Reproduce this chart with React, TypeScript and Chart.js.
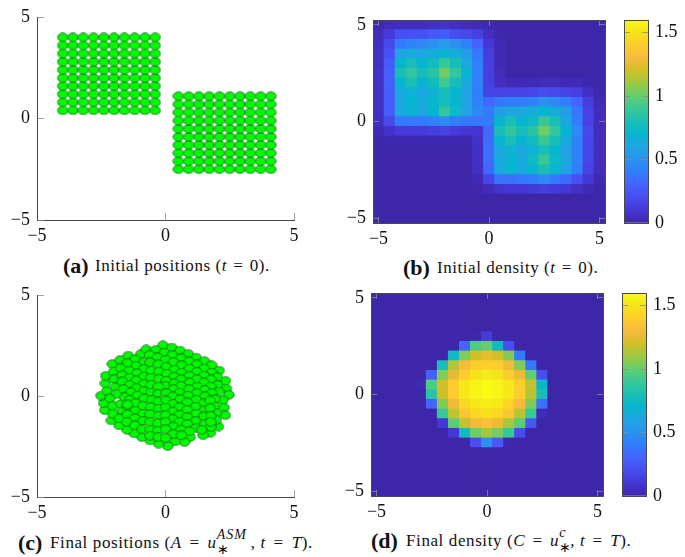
import React, { useEffect, useRef } from "react";
import { Chart, registerables } from "chart.js";

Chart.register(...registerables);

const blockAX = [-4, -3.6, -3.2, -2.8, -2.4, -2, -1.6, -1.2, -0.8, -0.4];
const blockAY = [0.4, 0.8, 1.2, 1.6, 2, 2.4, 2.8, 3.2, 3.6, 4];
const blockBX = [0.5, 0.9, 1.3, 1.7, 2.1, 2.5, 2.9, 3.3, 3.7, 4.1];
const blockBY = [-2.5, -2.1, -1.7, -1.3, -0.9, -0.5, -0.1, 0.3, 0.7, 1.1];

const finalX = [
  -0.1, 0.25, 0.57, 0.89, 1.2, 1.52, 1.8, 2.09, 2.33, 2.37, 2.47, 2.23, 2.28, 2.33, 2.06, 1.75, 1.46, 0.96, 0.74, 0.38,
  0.09, -0.27, -0.6, -0.92, -1.22, -1.5, -1.8, -2.11, -2.36, -2.41, -2.51, -2.28, -2.34, -2.33, -2.07, -1.76, -1.45, -0.97, -0.75, -0.39,
  -0.05, 0.27, 0.6, 0.91, 1.22, 1.5, 1.79, 2.02,
  -0.62, -0.32, 0, 0.31, 0.62, 0.92, 1.22, 1.5, 1.76, 2.02,
  -1.19, -0.85, -0.6, -0.28, 0.03, 0.34, 0.62, 0.93, 1.22, 1.5, 1.76, 2.07,
  -1.48, -1.14, -0.85, -0.57, -0.26, 0.05, 0.34, 0.6, 0.93, 1.24, 1.53, 1.8, 1.93,
  -2.02, -1.74, -1.42, -1.11, -0.85, -0.57, -0.26, 0.03, 0, 0.34, 0.6, 0.91, 1.22, 1.54,
  -1.99, -1.68, -1.4, -1.14, -0.85, -0.57, -0.28, 0.31, 0.54, 0.88, 1.19, 1.5, 1.89,
  -1.94, -1.68, -1.4, -1.14, -0.85, -0.57, -0.28, 0.03, 0.28, 0.57, 0.85, 1.17, 1.54, 1.97,
  -2.15, -1.87, -1.63, -1.35, -1.09, -0.83, -0.54, -0.27, 0.03, 0.28, 0.54, 0.85, 1.17, 1.5, 1.97,
  -2.05, -1.74, -1.58, -1.4, -1.17, -0.88, -0.57, -0.27, 0, 0.28, 0.54, 0.85, 1.17, 1.54,
  -1.7, -1.44, -1.18, -0.88, -0.6, -0.27, 0, 0.28, 0.54, 0.85, 1.19,
  -2.05, -1.79, -1.48, -1.19, -0.88, -0.6, -0.3, 0, 0.31, 0.6, 0.93,
  -1.5, -1.19, -0.91, -0.6, -0.31, 0, 0.31, 0.62,
  -0.6, -0.28, 0, 1.76, 1.41, 1.74, 1.74, 1.76, 1.76, -1.48,
];
const finalY = [
  2.51, 2.4, 2.25, 2.08, 1.9, 1.72, 1.52, 1.26, 0.75, 0.37, 0.06, -0.21, -0.57, -0.95, -1.51, -1.82, -1.94, -2.03, -2.28, -2.25,
  -2.48, -2.36, -2.2, -2.03, -1.85, -1.67, -1.46, -1.21, -0.7, -0.35, 0.02, 0.26, 0.63, 1, 1.59, 1.79, 2, 2.07, 2.31, 2.28,
  2.15, 2.02, 1.87, 1.72, 1.56, 1.36, 1.16, 0.93,
  2.03, 1.92, 1.79, 1.67, 1.52, 1.36, 1.19, 1.01, 0.82, 0.55,
  1.82, 1.67, 1.67, 1.57, 1.44, 1.31, 1.16, 1, 0.83, 0.67, 0.47, 0.22,
  1.62, 1.49, 1.34, 1.26, 1.21, 1.1, 0.96, 0.83, 0.67, 0.47, 0.3, 0.14, -0.16,
  1.21, 1.38, 1.26, 1.13, 0.96, 0.91, 0.85, 0.75, 0.5, 0.63, 0.5, 0.34, 0.14, -0.02,
  0.83, 1.03, 0.91, 0.77, 0.6, 0.55, 0.47, 0.34, 0.17, 0.01, -0.19, -0.35, -0.49,
  0.44, 0.72, 0.55, 0.39, 0.24, 0.17, 0.11, 0.14, -0.02, -0.16, -0.32, -0.52, -0.68, -0.85,
  -0.11, 0.11, 0.34, 0.19, 0.02, -0.12, -0.19, -0.27, -0.22, -0.39, -0.55, -0.68, -0.88, -1.01, -1.18,
  -0.49, -0.39, -0.06, -0.19, -0.35, -0.49, -0.55, -0.62, -0.57, -0.77, -0.93, -1.05, -1.24, -1.39,
  -0.77, -0.55, -0.73, -0.88, -0.9, -0.98, -0.95, -1.14, -1.29, -1.39, -1.59,
  -0.88, -1.11, -0.91, -1.1, -1.24, -1.28, -1.34, -1.29, -1.51, -1.67, -1.75,
  -1.29, -1.46, -1.64, -1.66, -1.71, -1.64, -1.89, -1.94,
  -1.97, -2.03, -2.08, -1.54, -1.67, -0.22, -0.6, -0.98, -1.28, -0.42,
];

const gridCenters = [-5, -4.5, -4, -3.5, -3, -2.5, -2, -1.5, -1, -0.5, 0, 0.5, 1, 1.5, 2, 2.5, 3, 3.5, 4, 4.5, 5];

// rows run from y = 5 (top) to y = -5 (bottom), columns from x = -5 to x = 5
const initialDensity = [
  [0.02, 0.04, 0.05, 0.05, 0.05, 0.06, 0.07, 0.05, 0.04, 0.03, 0.01, 0, 0, 0, 0, 0, 0, 0, 0, 0, 0],
  [0.04, 0.12, 0.22, 0.22, 0.22, 0.25, 0.27, 0.2, 0.18, 0.14, 0.05, 0.01, 0, 0, 0, 0, 0, 0, 0, 0, 0],
  [0.05, 0.18, 0.4, 0.43, 0.46, 0.5, 0.55, 0.5, 0.43, 0.3, 0.1, 0.03, 0, 0, 0, 0, 0, 0, 0, 0, 0],
  [0.06, 0.22, 0.58, 0.62, 0.62, 0.65, 0.68, 0.65, 0.56, 0.38, 0.13, 0.03, 0, 0, 0, 0, 0, 0, 0, 0, 0],
  [0.06, 0.27, 0.7, 0.78, 0.7, 0.76, 0.9, 0.78, 0.62, 0.42, 0.14, 0.03, 0, 0, 0, 0, 0, 0, 0, 0, 0],
  [0.07, 0.28, 0.8, 0.88, 0.78, 0.86, 1.02, 0.88, 0.7, 0.42, 0.14, 0.04, 0, 0, 0, 0, 0, 0, 0, 0, 0],
  [0.07, 0.28, 0.7, 0.8, 0.7, 0.76, 0.92, 0.78, 0.62, 0.42, 0.14, 0.05, 0.03, 0.03, 0.03, 0.04, 0.04, 0.03, 0.03, 0.01, 0],
  [0.06, 0.27, 0.62, 0.68, 0.62, 0.68, 0.78, 0.7, 0.58, 0.41, 0.16, 0.15, 0.15, 0.15, 0.17, 0.2, 0.18, 0.16, 0.13, 0.06, 0.01],
  [0.06, 0.27, 0.62, 0.7, 0.64, 0.71, 0.78, 0.7, 0.58, 0.44, 0.32, 0.38, 0.41, 0.41, 0.43, 0.5, 0.46, 0.41, 0.3, 0.13, 0.03],
  [0.06, 0.27, 0.62, 0.68, 0.62, 0.7, 0.88, 0.73, 0.58, 0.46, 0.4, 0.56, 0.62, 0.62, 0.65, 0.7, 0.65, 0.56, 0.38, 0.15, 0.04],
  [0.05, 0.18, 0.38, 0.39, 0.39, 0.43, 0.47, 0.41, 0.38, 0.38, 0.4, 0.7, 0.8, 0.7, 0.74, 0.9, 0.8, 0.62, 0.41, 0.15, 0.04],
  [0.03, 0.07, 0.12, 0.12, 0.12, 0.13, 0.15, 0.12, 0.1, 0.09, 0.32, 0.8, 0.88, 0.78, 0.86, 1.02, 0.88, 0.7, 0.46, 0.18, 0.04],
  [0, 0.01, 0.02, 0.02, 0.02, 0.02, 0.02, 0.02, 0.01, 0.07, 0.35, 0.7, 0.8, 0.7, 0.76, 0.9, 0.78, 0.64, 0.43, 0.17, 0.04],
  [0, 0, 0, 0, 0, 0, 0, 0, 0, 0.06, 0.34, 0.62, 0.68, 0.62, 0.68, 0.8, 0.7, 0.58, 0.43, 0.17, 0.04],
  [0, 0, 0, 0, 0, 0, 0, 0, 0, 0.06, 0.34, 0.64, 0.7, 0.64, 0.74, 0.9, 0.73, 0.62, 0.43, 0.17, 0.04],
  [0, 0, 0, 0, 0, 0, 0, 0, 0, 0.05, 0.32, 0.62, 0.71, 0.64, 0.7, 0.8, 0.71, 0.58, 0.41, 0.15, 0.04],
  [0, 0, 0, 0, 0, 0, 0, 0, 0, 0.03, 0.17, 0.36, 0.36, 0.38, 0.41, 0.46, 0.39, 0.32, 0.22, 0.1, 0.02],
  [0, 0, 0, 0, 0, 0, 0, 0, 0, 0.01, 0.04, 0.08, 0.1, 0.1, 0.12, 0.13, 0.12, 0.1, 0.06, 0.03, 0],
  [0, 0, 0, 0, 0, 0, 0, 0, 0, 0, 0, 0, 0, 0, 0, 0, 0, 0, 0, 0, 0],
  [0, 0, 0, 0, 0, 0, 0, 0, 0, 0, 0, 0, 0, 0, 0, 0, 0, 0, 0, 0, 0],
  [0, 0, 0, 0, 0, 0, 0, 0, 0, 0, 0, 0, 0, 0, 0, 0, 0, 0, 0, 0, 0],
];

const finalDensity = [
  [0, 0, 0, 0, 0, 0, 0, 0, 0, 0, 0, 0, 0, 0, 0, 0, 0, 0, 0, 0, 0],
  [0, 0, 0, 0, 0, 0, 0, 0, 0, 0, 0, 0, 0, 0, 0, 0, 0, 0, 0, 0, 0],
  [0, 0, 0, 0, 0, 0, 0, 0, 0, 0, 0, 0, 0, 0, 0, 0, 0, 0, 0, 0, 0],
  [0, 0, 0, 0, 0, 0, 0, 0, 0, 0, 0, 0, 0, 0, 0, 0, 0, 0, 0, 0, 0],
  [0, 0, 0, 0, 0, 0, 0, 0, 0, 0.01, 0.12, 0, 0, 0, 0, 0, 0, 0, 0, 0, 0],
  [0, 0, 0, 0, 0, 0, 0, 0, 0.3, 0.95, 1, 0.75, 0.2, 0, 0, 0, 0, 0, 0, 0, 0],
  [0, 0, 0, 0, 0, 0, 0, 0.75, 1.05, 1.2, 1.25, 1.2, 1.05, 0.4, 0, 0, 0, 0, 0, 0, 0],
  [0, 0, 0, 0, 0, 0, 0.8, 1.15, 1.3, 1.4, 1.42, 1.4, 1.28, 1.05, 0.38, 0, 0, 0, 0, 0, 0],
  [0, 0, 0, 0, 0, 0.28, 1.05, 1.25, 1.4, 1.5, 1.53, 1.5, 1.4, 1.27, 1, 0.2, 0, 0, 0, 0, 0],
  [0, 0, 0, 0, 0.02, 0.95, 1.2, 1.4, 1.52, 1.57, 1.6, 1.57, 1.52, 1.4, 1.18, 0.72, 0, 0, 0, 0, 0],
  [0, 0, 0, 0, 0, 0.85, 1.2, 1.4, 1.52, 1.57, 1.6, 1.57, 1.52, 1.4, 1.15, 0.8, 0, 0, 0, 0, 0],
  [0, 0, 0, 0, 0, 0.3, 1.05, 1.28, 1.45, 1.52, 1.54, 1.52, 1.44, 1.3, 1.05, 0.35, 0, 0, 0, 0, 0],
  [0, 0, 0, 0, 0, 0, 0.9, 1.17, 1.36, 1.45, 1.48, 1.45, 1.36, 1.15, 0.9, 0.03, 0, 0, 0, 0, 0],
  [0, 0, 0, 0, 0, 0, 0.1, 0.98, 1.17, 1.28, 1.33, 1.27, 1.12, 0.98, 0.25, 0, 0, 0, 0, 0, 0],
  [0, 0, 0, 0, 0, 0, 0, 0.1, 0.75, 1.02, 1.12, 1.03, 0.9, 0.2, 0, 0, 0, 0, 0, 0, 0],
  [0, 0, 0, 0, 0, 0, 0, 0, 0, 0.2, 0.5, 0.25, 0.01, 0, 0, 0, 0, 0, 0, 0, 0],
  [0, 0, 0, 0, 0, 0, 0, 0, 0, 0, 0, 0, 0, 0, 0, 0, 0, 0, 0, 0, 0],
  [0, 0, 0, 0, 0, 0, 0, 0, 0, 0, 0, 0, 0, 0, 0, 0, 0, 0, 0, 0, 0],
  [0, 0, 0, 0, 0, 0, 0, 0, 0, 0, 0, 0, 0, 0, 0, 0, 0, 0, 0, 0, 0],
  [0, 0, 0, 0, 0, 0, 0, 0, 0, 0, 0, 0, 0, 0, 0, 0, 0, 0, 0, 0, 0],
  [0, 0, 0, 0, 0, 0, 0, 0, 0, 0, 0, 0, 0, 0, 0, 0, 0, 0, 0, 0, 0],
];

const axisTicks = [-5, 0, 5];
const colorbarTicks = [0, 0.5, 1, 1.5];
const colorMax = 1.6;

const parulaStops = [
  [62, 38, 168], [69, 55, 213], [72, 77, 240], [69, 99, 253], [50, 124, 252],
  [43, 145, 239], [32, 165, 227], [8, 181, 208], [25, 191, 182], [55, 200, 151],
  [100, 205, 111], [157, 201, 67], [209, 191, 39], [248, 186, 61], [252, 205, 45],
  [245, 227, 26], [249, 251, 21],
];

const FONT = '"Liberation Serif", serif';
const AXIS = "#4a4a4a";
const TICK = "rgba(140,140,140,0.8)";

function parula(t: number) {
  const p = Math.max(0, Math.min(1, t)) * (parulaStops.length - 1);
  const i = Math.min(Math.floor(p), parulaStops.length - 2);
  const f = p - i;
  const c = parulaStops[i].map((v, k) => Math.round(v + (parulaStops[i + 1][k] - v) * f));
  return `rgb(${c[0]},${c[1]},${c[2]})`;
}

function ellipseMarker() {
  const c = document.createElement("canvas");
  c.width = 12;
  c.height = 10;
  const g = c.getContext("2d")!;
  g.beginPath();
  g.ellipse(6, 5, 5.3, 4.35, 0, 0, Math.PI * 2);
  g.fillStyle = "#00f800";
  g.fill();
  g.lineWidth = 0.55;
  g.strokeStyle = "#203020";
  g.stroke();
  return c;
}

function axisBase(values: number[], labelled: boolean, size: number, padding: number, tickLen: number) {
  return {
    grid: {
      display: true,
      drawOnChartArea: false,
      drawTicks: true,
      tickLength: -tickLen,
      tickColor: (ctx: any) => (ctx.tick && ctx.tick.value === 0 && values.length === 4 ? "rgba(0,0,0,0)" : TICK),
      tickWidth: 1,
      z: 2,
    },
    border: { display: true, color: AXIS, width: 1, z: 2 },
    ticks: {
      display: labelled,
      padding: padding + tickLen,
      font: { family: FONT, size: 18 },
      color: "#111",
      maxRotation: 0,
      autoSkip: false,
      callback: (v: number) => (v < 0 ? "\u2212" + Math.abs(v) : String(v)),
    },
    afterBuildTicks: (s: any) => { s.ticks = values.map((value) => ({ value })); },
    afterFit: (s: any) => {
      if (s.isHorizontal()) s.height = size; else s.width = size;
      s.paddingTop = 0;
      s.paddingBottom = 0;
      s.paddingLeft = 0;
      s.paddingRight = 0;
    },
  };
}

function baseOptions(box: any, scales: any) {
  return {
    responsive: false,
    animation: false,
    layout: { autoPadding: false, padding: { left: box.padLeft, right: box.padRight, top: box.topSpace, bottom: 0 } },
    plugins: { legend: { display: false }, tooltip: { enabled: false } },
    scales,
  } as any;
}

function scatterConfig(groups: { x: number; y: number }[], box: any) {
  const axisX = { type: "linear", min: -5, max: 5, ...axisBase(axisTicks, true, box.bottomSpace, 5, 7) };
  const axisY = { type: "linear", min: -5, max: 5, ...axisBase(axisTicks, true, box.leftSpace, 7, 7) };
  return {
    type: "scatter",
    data: {
      datasets: [{
        data: groups,
        pointStyle: ellipseMarker(),
        pointRadius: 5,
        clip: false,
      }],
    },
    options: baseOptions(box, { x: axisX, y: axisY }),
  };
}

function heatConfig(matrix: number[][], box: any) {
  const cells: { x: number; y: number[] }[] = [];
  const colors: string[] = [];
  matrix.forEach((row, r) => {
    row.forEach((v, c) => {
      const yc = gridCenters[gridCenters.length - 1 - r];
      cells.push({ x: gridCenters[c], y: [yc - 0.25, yc + 0.25] });
      colors.push(parula(v / colorMax));
    });
  });
  const lim = { type: "linear", min: -5.25, max: 5.25, offset: false };
  const gx = axisBase(axisTicks, true, box.bottomSpace, 5, 6);
  const gy = axisBase(axisTicks, true, box.leftSpace, 7, 6);
  const tx = axisBase(axisTicks, false, 0, 0, 6);
  const ty = axisBase(axisTicks, false, 0, 0, 6);
  return {
    type: "bar",
    data: {
      datasets: [{
        data: cells,
        backgroundColor: colors,
        borderWidth: 0,
        inflateAmount: 0.4,
        barPercentage: 1,
        categoryPercentage: 1,
      }],
    },
    options: baseOptions(box, {
      x: { ...lim, ...gx, grid: { ...gx.grid, offset: false } },
      y: { ...lim, ...gy },
      x2: { ...lim, axis: "x", position: "top", ...tx, grid: { ...tx.grid, offset: false } },
      y2: { ...lim, axis: "y", position: "right", ...ty },
    }),
  };
}

function colorbarConfig(box: any) {
  const right = axisBase(colorbarTicks, true, box.rightSpace, 7, 6);
  right.ticks.callback = (v: number) => String(v);
  const left = axisBase(colorbarTicks, false, 0, 0, 6);
  const bottom = axisBase([], false, box.bottomSpace, 0, 0);
  const top = axisBase([], false, 0, 0, 0);
  return {
    type: "bar",
    data: {
      labels: ["colour"],
      datasets: [{
        data: [[0, colorMax]],
        borderWidth: 0,
        barPercentage: 1,
        categoryPercentage: 1,
        backgroundColor: (ctx: any) => {
          const a = ctx.chart.chartArea;
          if (!a) return parula(0);
          const g = ctx.chart.ctx.createLinearGradient(0, a.bottom, 0, a.top);
          parulaStops.forEach((_, i) => g.addColorStop(i / (parulaStops.length - 1), parula(i / (parulaStops.length - 1))));
          return g;
        },
      }],
    },
    options: baseOptions(box, {
      x: { type: "category", offset: true, ...bottom, grid: { ...bottom.grid, offset: true } },
      y: { type: "linear", min: 0, max: colorMax, position: "right", ...right },
      y2: { type: "linear", axis: "y", min: 0, max: colorMax, position: "left", ...left },
      x2: { type: "linear", axis: "x", min: 0, max: 1, position: "top", ...top },
    }),
  };
}

// Canvas region derived from the plot rectangle: plot left, top, right, bottom
function boxFor(l: number, t: number, r: number, b: number, opts: any = {}): any {
  const leftSpace = opts.leftSpace ?? 37;
  const rightSpace = opts.rightSpace ?? 8;
  const bottomSpace = 28;
  const topSpace = 8;
  return {
    left: l - leftSpace,
    top: t - topSpace,
    width: r - l + leftSpace + rightSpace,
    height: b - t + topSpace + bottomSpace,
    leftSpace,
    bottomSpace,
    rightSpace,
    topSpace,
    padLeft: opts.padLeft ?? 0,
    padRight: opts.padRight ?? rightSpace,
  };
}

function Panel({ box, make }: { box: any; make: (b: any) => any }) {
  const ref = useRef<HTMLCanvasElement>(null);
  useEffect(() => {
    const chart = new Chart(ref.current!, make(box));
    return () => chart.destroy();
  }, []);
  return (
    <canvas
      ref={ref}
      width={box.width}
      height={box.height}
      style={{ position: "absolute", left: box.left, top: box.top, width: box.width, height: box.height }}
    />
  );
}

function Caption({ tag, tagX, textX, y, spacing, children }: any) {
  const common: any = { position: "absolute", whiteSpace: "nowrap", fontFamily: FONT, color: "#111", lineHeight: "20px" };
  return (
    <>
      <span style={{ ...common, left: tagX, top: y - 11, fontSize: 22, fontWeight: 700, lineHeight: "22px" }}>{tag}</span>
      <span style={{ ...common, left: textX, top: y - 10, fontSize: 17, letterSpacing: spacing }}>{children}</span>
    </>
  );
}

function Eq({ gap }: { gap: number }) {
  return <span style={{ margin: `0 ${gap}px` }}>=</span>;
}

function UStar({ sup, width }: { sup: string; width: number }) {
  const small: any = { position: "absolute", left: 0, fontSize: 14, lineHeight: "12px", letterSpacing: 1 };
  return (
    <>
      <i>u</i>
      <span style={{ position: "relative", display: "inline-block", width, height: 10 }}>
        <span style={{ ...small, top: -9 }}><i>{sup}</i></span>
        <span style={{ ...small, top: 6 }}>{"\u2217"}</span>
      </span>
    </>
  );
}

const pointsOf = (xs: number[], ys: number[]) => ys.flatMap((y) => xs.map((x) => ({ x, y })));

export default function App() {
  const initialPoints = [...pointsOf(blockAX, blockAY), ...pointsOf(blockBX, blockBY)];
  const finalPoints = finalX.map((x, i) => ({ x, y: finalY[i] }));
  return (
    <div style={{ position: "absolute", left: 0, top: 0, width: 685, height: 557, background: "#fff", overflow: "hidden", filter: "blur(0.35px)" }}>
      <Panel box={boxFor(37, 17, 294, 220, { rightSpace: 20 })} make={(b) => scatterConfig(initialPoints, b)} />
      <Panel box={boxFor(373, 20, 605, 223)} make={(b) => heatConfig(initialDensity, b)} />
      <Panel box={boxFor(624, 20, 648, 223, { leftSpace: 4, padLeft: 4, rightSpace: 37, padRight: 0 })} make={(b) => colorbarConfig(b)} />
      <Panel box={boxFor(37, 295, 294, 497, { rightSpace: 20 })} make={(b) => scatterConfig(finalPoints, b)} />
      <Panel box={boxFor(371, 293, 603, 496)} make={(b) => heatConfig(finalDensity, b)} />
      <Panel box={boxFor(622, 293, 646, 496, { leftSpace: 4, padLeft: 4, rightSpace: 39, padRight: 0 })} make={(b) => colorbarConfig(b)} />

      <Caption tag="(a)" tagX={63} textX={95} y={266} spacing={0.55}>
        Initial positions (<i>t</i> <Eq gap={1.5} /> 0).
      </Caption>
      <Caption tag="(b)" tagX={403} textX={437} y={268} spacing={0.55}>
        Initial density (<i>t</i> <Eq gap={1.5} /> 0).
      </Caption>
      <Caption tag="(c)" tagX={18} textX={50} y={543} spacing={0.6}>
        Final positions (<i>A</i> <Eq gap={3} /> <UStar sup="ASM" width={34} />, <i>t</i> <Eq gap={3} /> <i>T</i>).
      </Caption>
      <Caption tag="(d)" tagX={371} textX={406} y={541} spacing={0.6}>
        Final density (<i>C</i> <Eq gap={2.5} /> <UStar sup="c" width={11} />, <i>t</i> <Eq gap={2.5} /> <i>T</i>).
      </Caption>
    </div>
  );
}
